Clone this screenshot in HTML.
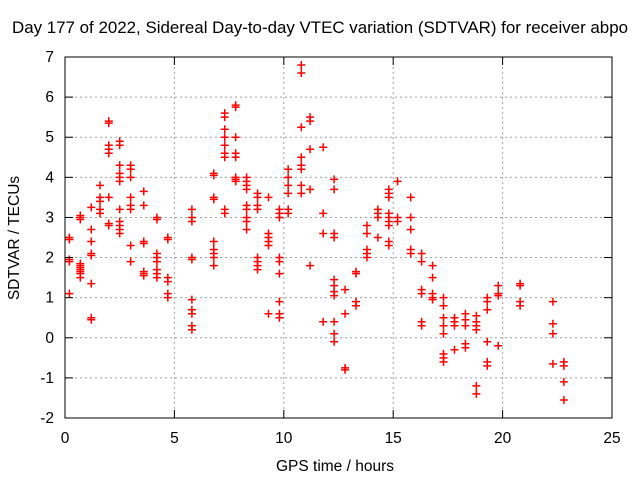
<!DOCTYPE html>
<html><head><meta charset="utf-8"><style>
html,body{margin:0;padding:0;background:#fff;width:640px;height:480px;overflow:hidden}
svg text{font-family:"Liberation Sans",sans-serif;font-size:15.5px;fill:#000}
</style></head><body>
<svg id="chart" width="640" height="480" xmlns="http://www.w3.org/2000/svg">
<rect width="640" height="480" fill="#fff"/>
<text x="12" y="33" style="font-size:16.5px" textLength="616" lengthAdjust="spacingAndGlyphs">Day 177 of 2022, Sidereal Day-to-day VTEC variation (SDTVAR) for receiver abpo</text>
<g id="grid"></g>
<g id="marks"></g>
<rect x="65" y="57" width="547" height="361" fill="none" stroke="#000" stroke-width="1"/>
<g id="axes"></g>
<text x="335" y="471" text-anchor="middle">GPS time / hours</text>
<text x="0" y="0" text-anchor="middle" transform="translate(19,238) rotate(-90)">SDTVAR / TECUs</text>
</svg>
<script>
const xTicks=[0,5,10,15,20,25];
const yTicks=[-2,-1,0,1,2,3,4,5,6,7];
const hours=[0.2,0.7,1.2,1.6,2.0,2.5,3.0,3.6,4.2,4.7,5.8,6.8,7.3,7.8,8.3,8.8,9.3,9.8,10.2,10.8,11.2,11.8,12.3,12.8,13.3,13.8,14.3,14.8,15.2,15.8,16.3,16.8,17.3,17.8,18.3,18.8,19.3,19.8,20.8,22.3,22.8];
const values=[
[2.5,2.45,1.95,1.9,1.1],
[3.0,2.95,3.05,1.85,1.8,1.7,1.6,1.5,1.75,1.65],
[3.25,2.7,2.4,2.1,2.05,1.35,0.5,0.45],
[3.8,3.5,3.4,3.2,3.1],
[5.35,5.4,4.8,4.7,4.6,3.5,2.85,2.8],
[4.9,4.8,4.3,4.1,4.0,3.9,3.2,2.9,2.8,2.7,2.6],
[4.3,4.2,4.0,3.5,3.3,3.2,1.9,2.3],
[3.65,3.3,2.4,2.35,1.65,1.55,1.6],
[3.0,2.95,2.1,2.0,1.9,1.7,1.6,1.5],
[2.5,2.45,1.5,1.4,1.1,1.0],
[3.2,3.0,2.9,2.0,1.95,0.95,0.7,0.6,0.3,0.2],
[4.1,4.05,3.5,3.45,2.4,2.2,2.1,2.0,1.8],
[5.6,5.5,5.2,5.0,4.8,4.6,4.5,3.2,3.1],
[5.8,5.75,5.0,4.6,4.5,4.0,3.95,3.9],
[4.0,3.9,3.8,3.7,3.3,3.2,3.0,2.9,2.7],
[3.6,3.5,3.3,3.2,2.0,1.9,1.8,1.7],
[3.5,2.6,2.5,2.4,2.3,0.6],
[3.2,3.1,3.0,2.0,1.9,1.6,0.9,0.6,0.5],
[4.2,4.0,3.8,3.6,3.2,3.1],
[6.8,6.6,5.25,4.5,4.3,4.2,3.8,3.6],
[5.5,5.4,4.7,3.7,1.8],
[4.75,3.1,2.6,0.4],
[3.95,3.7,2.6,2.5,1.45,1.3,1.15,1.05,0.4,0.1,-0.1],
[1.2,0.6,-0.75,-0.8],
[1.65,1.6,0.9,0.8],
[2.8,2.6,2.2,2.1,2.0],
[3.2,3.1,3.0,2.5],
[3.7,3.6,3.5,3.1,3.0,2.9,2.8,2.4,2.3],
[3.9,3.0,2.9],
[3.5,3.0,2.7,2.2,2.1],
[2.1,1.9,1.2,1.1,0.4,0.3],
[1.8,1.5,1.1,1.0,0.95],
[1.0,0.8,0.5,0.3,0.1,-0.4,-0.5,-0.6],
[0.5,0.4,0.3,-0.3],
[0.6,0.45,0.3,-0.15,-0.25],
[0.55,0.4,0.3,0.2,-1.2,-1.4],
[1.0,0.9,0.7,-0.1,-0.6,-0.7],
[1.3,1.1,1.05,-0.2],
[1.35,1.3,0.9,0.8],
[0.9,0.35,0.1,-0.65],
[-0.6,-0.7,-1.1,-1.55]
];
const L=65,R=612,T=57,B=418;
const xs=h=>L+(h-0)/25*(R-L);
const ys=v=>B-(v+2)/9*(B-T);
const NS="http://www.w3.org/2000/svg";
const grid=document.getElementById('grid'),axes=document.getElementById('axes'),marks=document.getElementById('marks');
function mk(tag,attrs,parent){const e=document.createElementNS(NS,tag);for(const k in attrs)e.setAttribute(k,attrs[k]);parent.appendChild(e);return e;}
yTicks.forEach(v=>{
  const y=ys(v);
  if(v>-2&&v<7){const g=mk('line',{x1:L,x2:R,y1:y,y2:y,stroke:'#a0a0a0','stroke-dasharray':'2,3'},grid);
  
  }
  mk('line',{x1:L,x2:L+8,y1:y,y2:y,stroke:'#000'},axes);
  mk('line',{x1:R-8,x2:R,y1:y,y2:y,stroke:'#000'},axes);
  const t=mk('text',{x:54,y:y+5,'text-anchor':'end'},axes);t.textContent=v;
  
  
});
xTicks.forEach(h=>{
  const x=xs(h);
  if(h>0&&h<25){const g=mk('line',{x1:x,x2:x,y1:T,y2:B,stroke:'#a0a0a0','stroke-dasharray':'2,3'},grid);
  
  }
  mk('line',{x1:x,x2:x,y1:B-8,y2:B,stroke:'#000'},axes);
  mk('line',{x1:x,x2:x,y1:T,y2:T+8,stroke:'#000'},axes);
  const t=mk('text',{x:x,y:443,'text-anchor':'middle'},axes);t.textContent=h;
  
  
});
hours.forEach((h,i)=>{
  values[i].forEach(v=>{
    const x=xs(h),y=ys(v);
    const p=mk('path',{d:`M${x-4},${y}H${x+4}M${x},${y-4}V${y+4}`,stroke:'#f00','stroke-width':1.5,fill:'none'},marks);
    
    
  });
});
</script>
</body></html>
